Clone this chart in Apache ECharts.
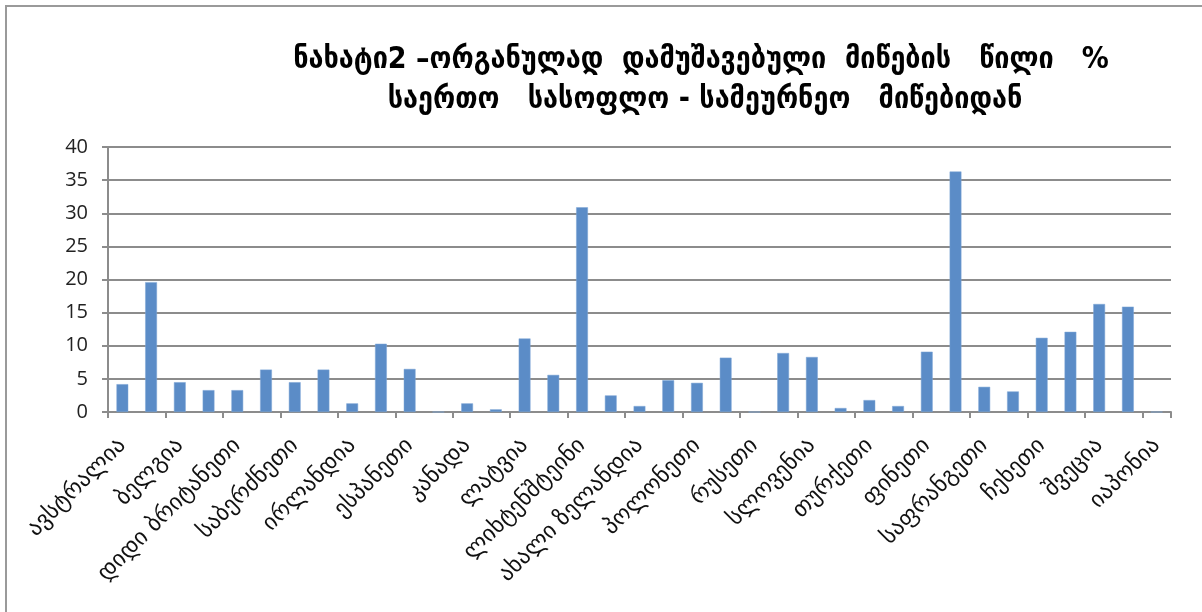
<!DOCTYPE html>
<html>
<head>
<meta charset="utf-8">
<script src="https://cdn.jsdelivr.net/npm/echarts@6/dist/echarts.min.js"></script>
<style>
html,body{margin:0;padding:0;background:#fff;overflow:hidden;}
#chart{position:absolute;left:0;top:0;width:1202px;height:612px;}
#frame{position:absolute;left:5px;top:5px;width:1400px;height:800px;border-left:2px solid #9a9a9a;border-top:2px solid #9a9a9a;pointer-events:none;}
</style>
</head>
<body>
<div id="chart"></div>
<div id="frame"></div>
<script>
var titleLine1 = 'ნახატი2 –ორგანულად  დამუშავებული  მიწების   წილი   %';
var titleLine2 = 'საერთო   სასოფლო - სამეურნეო   მიწებიდან';
var categories = [
  'ავსტრალია','ავსტრია','ბელგია','ბულგარეთი','დიდი ბრიტანეთი','გერმანია',
  'საბერძნეთი','დანია','ირლანდია','იტალია','ესპანეთი','ყაზახეთი',
  'კანადა','ჩინეთი','ლატვია','ლიტვა','ლიხტენშტეინი','ლუქსემბურგი',
  'ახალი ზელანდია','ნორვეგია','პოლონეთი','პორტუგალია','რუსეთი','სლოვაკეთი',
  'სლოვენია','აშშ','თურქეთი','უკრაინა','ფინეთი','ფოლკლენდის კუნძულები',
  'საფრანგეთი','ხორვატია','ჩეხეთი','შვეიცარია','შვეცია','ესტონეთი','იაპონია'
];
var values = [
  4.2, 19.6, 4.5, 3.3, 3.3, 6.4,
  4.5, 6.4, 1.3, 10.3, 6.5, 0,
  1.3, 0.4, 11.1, 5.6, 30.9, 2.5,
  0.9, 4.8, 4.4, 8.2, 0, 8.9,
  8.3, 0.6, 1.8, 0.9, 9.1, 36.3,
  3.8, 3.1, 11.2, 12.1, 16.3, 15.9, 0
];
var yTicks = [0, 5, 10, 15, 20, 25, 30, 35, 40];

var chart = echarts.init(document.getElementById('chart'));
var geo = "'DejaVu Sans', 'Noto Sans', sans-serif";
var titleStyle = {fontFamily: "'DejaVu Sans Condensed', 'DejaVu Sans', sans-serif", fontWeight: 'bold', fontSize: 30, color: '#000'};
chart.setOption({
  animation: false,
  title: [
    {text: titleLine1, left: 696, top: 40, textAlign: 'center', textStyle: titleStyle},
    {text: titleLine2, left: 700, top: 80, textAlign: 'center', textStyle: titleStyle}
  ],
  grid: {left: 108, right: 31, top: 147, bottom: 200, containLabel: false},
  xAxis: {
    type: 'category',
    data: categories,
    boundaryGap: true,
    axisLine: {lineStyle: {color: '#8c8c8c', width: 2}},
    axisTick: {show: true, length: 6, lineStyle: {color: '#8c8c8c', width: 2}},
    axisLabel: {interval: 1, rotate: 45, margin: 30, fontFamily: geo, fontSize: 23, color: '#111'}
  },
  yAxis: {
    type: 'value',
    min: 0, max: 40, interval: 5,
    axisLine: {show: true, lineStyle: {color: '#8c8c8c', width: 2}},
    axisTick: {show: true, length: 6, lineStyle: {color: '#8c8c8c', width: 2}},
    axisLabel: {margin: 20, fontFamily: "'Open Sans', 'Liberation Sans', sans-serif", fontSize: 20, color: '#222',
      formatter: function(v){ return yTicks.indexOf(v) >= 0 ? String(v) : ''; }},
    splitLine: {show: true, lineStyle: {color: '#8c8c8c', width: 2}}
  },
  series: [{
    type: 'bar',
    data: values,
    barWidth: '41%',
    itemStyle: {color: '#5b8cc7', borderColor: '#7ea6d6', borderWidth: 0.5}
  }]
});
</script>
</body>
</html>
